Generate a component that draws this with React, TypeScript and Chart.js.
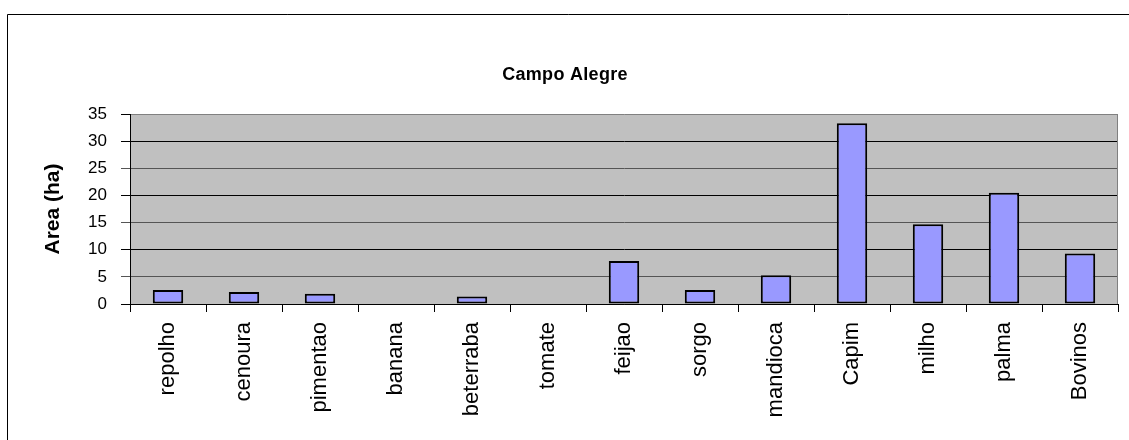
import React, { useEffect, useRef } from "react";
import { Chart, registerables } from "chart.js";
Chart.register(...registerables);

const TITLE = "Campo Alegre";
const Y_TITLE = "Area (ha)";
const CATEGORIES = [
  "repolho", "cenoura", "pimentao", "banana", "beterraba", "tomate", "feijao",
  "sorgo", "mandioca", "Capim", "milho", "palma", "Bovinos",
];
const AREA = [2.6, 2.2, 1.9, 0, 1.4, 0, 7.9, 2.6, 5.3, 33.3, 14.7, 20.5, 9.3];
const Y_MIN = 0;
const Y_MAX = 35;
const Y_STEP = 5;

const FONT = '"Liberation Sans", Arial, sans-serif';
const W = 1129;
const H = 440;

export default function App() {
  const ref = useRef<HTMLCanvasElement>(null);

  useEffect(() => {
    if (!ref.current) return;
    const decor = {
      id: "decor",
      beforeDraw(chart: any) {
        const { ctx, chartArea: a } = chart;
        ctx.save();
        ctx.fillStyle = "#fff";
        ctx.fillRect(0, 0, chart.width, chart.height);
        ctx.fillStyle = "#C0C0C0";
        ctx.fillRect(a.left, a.top, a.right - a.left, a.bottom - a.top);
        ctx.strokeStyle = "#000";
        ctx.lineWidth = 1;
        ctx.beginPath();
        ctx.moveTo(7.5, chart.height);
        ctx.lineTo(7.5, 14.5);
        ctx.lineTo(chart.width, 14.5);
        ctx.stroke();
        ctx.fillStyle = "#000";
        ctx.font = `bold 18px ${FONT}`;
        try { (ctx as any).letterSpacing = "0.3px"; } catch (e) {}
        ctx.textAlign = "center";
        ctx.textBaseline = "middle";
        ctx.fillText(TITLE, 565, 75);
        ctx.restore();
      },
      beforeDatasetsDraw(chart: any) {
        const { ctx, chartArea: a } = chart;
        ctx.save();
        ctx.strokeStyle = "#808080";
        ctx.lineWidth = 1;
        ctx.beginPath();
        ctx.moveTo(Math.round(a.right) - 0.5, a.top);
        ctx.lineTo(Math.round(a.right) - 0.5, a.bottom);
        ctx.stroke();
        ctx.restore();
      },
    };

    const gridColor = (c: any) => {
      const v = c.tick ? c.tick.value : 0;
      if (v === Y_MAX) return "#808080";
      if (v % 10 === 0) return "#000";
      return "#555";
    };
    const tickColor = (c: any) => {
      const v = c.tick ? c.tick.value : 0;
      if (v === Y_MAX || v % 10 === 0) return "#000";
      return "#555";
    };

    const chart = new Chart(ref.current, {
      type: "bar",
      data: {
        labels: CATEGORIES,
        datasets: [
          {
            data: AREA,
            backgroundColor: "#9999FF",
            borderColor: "#000",
            borderWidth: (c: any) => (c.raw > 0 ? 2 : 0),
            borderSkipped: false,
            barPercentage: 0.4,
            categoryPercentage: 1,
          },
        ],
      },
      options: {
        responsive: false,
        devicePixelRatio: 1,
        animation: false,
        layout: { padding: { top: 114, right: 11, left: 0, bottom: 0 } },
        plugins: {
          legend: { display: false },
          tooltip: { enabled: false },
          title: { display: false },
        },
        scales: {
          x: {
            grid: {
              offset: true,
              drawOnChartArea: false,
              drawTicks: true,
              tickLength: 8,
              color: "#000",
              lineWidth: 1,
            },
            border: { color: "#000", width: 1 },
            ticks: {
              autoSkip: false,
              maxRotation: 90,
              minRotation: 90,
              padding: 10,
              color: "#000",
              font: { family: FONT, size: 22 },
            },
            afterFit(s: any) {
              s.height = 136;
            },
          },
          y: {
            min: Y_MIN,
            max: Y_MAX,
            ticks: {
              stepSize: Y_STEP,
              padding: 14,
              color: "#000",
              font: { family: FONT, size: 17 },
            },
            grid: {
              color: gridColor,
              tickColor: tickColor,
              tickLength: 9,
              drawTicks: true,
              lineWidth: 1,
            },
            border: { color: "#000", width: 1 },
            title: {
              display: true,
              text: Y_TITLE,
              color: "#000",
              font: { family: FONT, size: 21, weight: "bold" },
              padding: { top: 41, bottom: 0 },
            },
            afterFit(s: any) {
              s.width = 130;
            },
          },
        },
      },
      plugins: [decor],
    } as any);
    return () => chart.destroy();
  }, []);

  return (
    <div style={{ position: "fixed", left: 0, top: 0, width: W, height: H }}>
      <canvas ref={ref} width={W} height={H} style={{ width: W, height: H }} />
    </div>
  );
}
